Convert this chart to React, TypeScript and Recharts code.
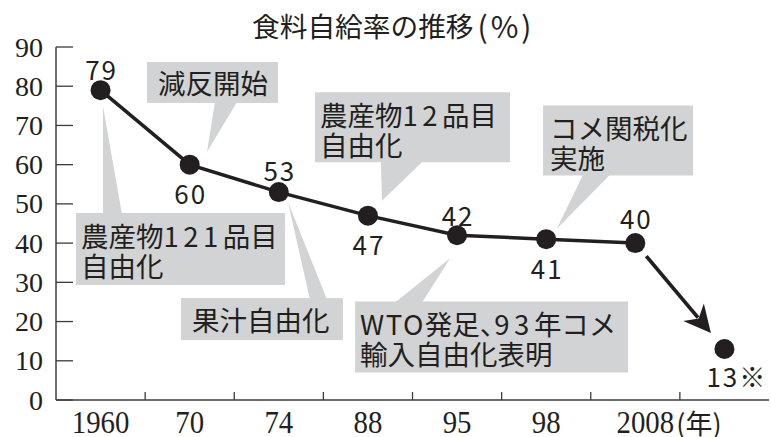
import React from 'react';
import { LineChart, Line, XAxis, YAxis } from 'recharts';

// ---------- data ----------
const TITLE_MAIN = '食料自給率の推移';
const TITLE_UNIT = ['(', '%', ')'];
const categories = ['1960', '70', '74', '88', '95', '98', '2008', ''];
const rates = [79, 60, 53, 47, 42, 41, 40, 13];
const valueLabels = ['79', '60', '53', '47', '42', '41', '40', '13※'];
const yTicks = [0, 10, 20, 30, 40, 50, 60, 70, 80, 90];
const yearSuffix = '(年)';
const plainLineEnd = 6; // last point joined by the plain line; the arrow follows
const eventIndex = [0, 1, 2, 3, 4, 5];
const eventText = [
  ['農産物121品目', '自由化'],
  ['減反開始'],
  ['果汁自由化'],
  ['農産物12品目', '自由化'],
  ['WTO発足、93年コメ', '輸入自由化表明'],
  ['コメ関税化', '実施'],
];

// ---------- layout / style ----------
const W = 771;
const H = 437;
const MARGIN = { top: 47, right: 2, bottom: 0, left: 0 };
const X_AXIS_H = 37;
const Y_AXIS_W = 56;
const INK = '#231f20';
const AXIS = '#3c3c3c';
const BOX = '#d1d3d4';
const CJK = "'Noto Sans CJK JP', 'Noto Sans', sans-serif";
const SERIF = "'Liberation Serif', 'DejaVu Serif', serif";
const labelDy = [-22, 28, -23, 28, -21, 28, -26, 26];
// box: [dx, dy, w, h] relative to the anchor point; base: x range on the box edge; tip: pointer tip
const calloutLayout = [
  { box: [-24.6, 122.8, 209, 72], base: [2.4, 21.4], tip: [2.4, 16], pad: 5 },
  { box: [-42.7, -102.7, 131, 41], base: [25.3, 47.3], tip: [17.3, -12.7], pad: 11 },
  { box: [-97.8, 106, 162, 42], base: [31, 48], tip: [9.2, 10], pad: 11 },
  { box: [-52.9, -123.4, 195, 70], base: [13, 55], tip: [14, -15], pad: 5 },
  { box: [-102, 66.2, 273, 71], base: [-62, -35], tip: [-7, 23], pad: 5 },
  { box: [-3.1, -133.7, 150, 70], base: [37, 64], tip: [10.6, -10.4], pad: 7 },
];

const chartData = categories.map((cat, i) => ({
  cat,
  callout: rates[i],
  main: i <= plainLineEnd ? rates[i] : null,
  arrow: i >= plainLineEnd ? rates[i] : null,
  point: rates[i],
}));

// split text into runs to widen ASCII digits/letters like the newspaper face
function runs(s: string) {
  const out: { t: string; ls: number }[] = [];
  for (const ch of Array.from(s)) {
    let ls = 0;
    if (/[0-9]/.test(ch)) ls = 4.5;
    else if (/[A-Za-z]/.test(ch)) ls = 1.5;
    else if (ch === '、') ls = -13;
    const last = out[out.length - 1];
    if (last && last.ls === ls) last.t += ch;
    else out.push({ t: ch, ls });
  }
  return out;
}

const RichText = ({ x, y, text, size }: any) => (
  <text x={x} y={y} dominantBaseline="central" fontFamily={CJK} fontSize={size} fill={INK}>
    {runs(text).map((r, i) => (
      <tspan key={i} style={{ letterSpacing: `${r.ls}px` }}>
        {r.t}
      </tspan>
    ))}
  </text>
);

const CalloutDot = (p: any) => {
  const { cx, cy, index } = p;
  const k = eventIndex.indexOf(index);
  if (cx == null || cy == null || k < 0) return <g key={`c${index}`} />;
  const lay = calloutLayout[k];
  const lines = eventText[k];
  const [dx, dy, w, h] = lay.box;
  const bx = cx + dx;
  const by = cy + dy;
  const tx = cx + lay.tip[0];
  const ty = cy + lay.tip[1];
  const edgeY = ty < by ? by + 1 : by + h - 1;
  const poly = `${cx + lay.base[0]},${edgeY} ${tx},${ty} ${cx + lay.base[1]},${edgeY}`;
  return (
    <g key={`c${index}`}>
      <polygon points={poly} fill={BOX} />
      <rect x={bx} y={by} width={w} height={h} fill={BOX} />
      {lines.map((ln, j) => (
        <RichText
          key={j}
          x={bx + lay.pad}
          y={lines.length === 1 ? by + h / 2 : by + 22 + 30 * j}
          text={ln}
          size={27.5}
        />
      ))}
    </g>
  );
};

let arrowStart: { x: number; y: number } | null = null;
const ArrowDot = (p: any) => {
  const { cx, cy, index, points } = p;
  if (cx == null || cy == null) return <g key={`a${index}`} />;
  if (index === plainLineEnd) {
    arrowStart = { x: cx, y: cy };
    return <g key={`a${index}`} />;
  }
  const st = (points && points[plainLineEnd]) || arrowStart;
  if (!st) return <g key={`a${index}`} />;
  const ddx = cx - st.x;
  const ddy = cy - st.y;
  const len = Math.hypot(ddx, ddy);
  const ux = ddx / len;
  const uy = ddy / len;
  const px = -uy;
  const py = ux;
  const s0 = 17;
  const tipBack = 21;
  const headLen = 27;
  const headHalf = 13.5;
  const notch = 19;
  const tip = { x: cx - ux * tipBack, y: cy - uy * tipBack };
  const sx = st.x + ux * s0;
  const sy = st.y + uy * s0;
  const ex = tip.x - ux * (notch + 1);
  const ey = tip.y - uy * (notch + 1);
  const b1 = { x: tip.x - ux * headLen + px * headHalf, y: tip.y - uy * headLen + py * headHalf };
  const b2 = { x: tip.x - ux * headLen - px * headHalf, y: tip.y - uy * headLen - py * headHalf };
  const nt = { x: tip.x - ux * notch, y: tip.y - uy * notch };
  return (
    <g key={`a${index}`}>
      <line x1={sx} y1={sy} x2={ex} y2={ey} stroke={INK} strokeWidth={3.8} />
      <polygon points={`${tip.x},${tip.y} ${b1.x},${b1.y} ${nt.x},${nt.y} ${b2.x},${b2.y}`} fill={INK} />
    </g>
  );
};

const PointDot = (p: any) => {
  const { cx, cy, index } = p;
  if (cx == null || cy == null) return <g key={`p${index}`} />;
  const lbl = valueLabels[index];
  const ly = cy + labelDy[index];
  const isLast = index === rates.length - 1;
  return (
    <g key={`p${index}`}>
      <circle cx={cx} cy={cy} r={10} fill={INK} />
      {isLast ? (
        <text x={cx - 18} y={ly} dominantBaseline="central" fontFamily={CJK} fontSize={26} fill={INK}>
          <tspan style={{ letterSpacing: '2px' }}>{lbl.slice(0, 2)}</tspan>
          <tspan>{lbl.slice(2)}</tspan>
        </text>
      ) : (
        <text
          x={cx + 1}
          y={ly}
          textAnchor="middle"
          dominantBaseline="central"
          fontFamily={CJK}
          fontSize={26}
          fill={INK}
          style={{ letterSpacing: '2px' }}
        >
          {lbl}
        </text>
      )}
    </g>
  );
};

const XTick = (p: any) => {
  const { x, y, payload, index } = p;
  const half = payload && payload.offset ? payload.offset : 0;
  const label = payload ? String(payload.value) : '';
  const isYearEnd = index === plainLineEnd;
  return (
    <g>
      {index < categories.length - 1 && (
        <line x1={x + half} x2={x + half} y1={y} y2={y - 8} stroke={AXIS} strokeWidth={1.3} />
      )}
      {label !== '' && (
        <text
          transform={`translate(${x + (isYearEnd ? 10 : 0)} ${y + 22}) scale(0.9 1)`}
          textAnchor="middle"
          dominantBaseline="central"
          fontFamily={SERIF}
          fontSize={32}
          fill={INK}
        >
          {label}
        </text>
      )}
      {isYearEnd && (
        <text x={x + 41} y={y + 22} dominantBaseline="central" fontFamily={CJK} fontSize={27} fill={INK}>
          {yearSuffix}
        </text>
      )}
    </g>
  );
};

const YTick = (p: any) => {
  const { x, y, payload } = p;
  return (
    <g>
      <line x1={x} x2={x + 17} y1={y} y2={y} stroke={AXIS} strokeWidth={1.3} />
      <text
        x={x - 13}
        y={y}
        textAnchor="end"
        dominantBaseline="central"
        fontFamily={SERIF}
        fontSize={28}
        fill={INK}
      >
        {payload.value}
      </text>
    </g>
  );
};

export default function App() {
  return (
    <div style={{ position: 'absolute', left: 0, top: 0, width: W, height: H, background: '#fff' }}>
      <LineChart width={W} height={H} data={chartData} margin={MARGIN}>
        <XAxis
          dataKey="cat"
          scale="band"
          interval={0}
          height={X_AXIS_H}
          tickSize={0}
          tickMargin={0}
          tickLine={false}
          tick={<XTick />}
          axisLine={{ stroke: AXIS, strokeWidth: 1.5 }}
        />
        <XAxis
          xAxisId="top"
          dataKey="cat"
          scale="band"
          orientation="top"
          height={0}
          tick={false}
          tickLine={false}
          axisLine={{ stroke: AXIS, strokeWidth: 1.5 }}
        />
        <YAxis
          type="number"
          domain={[0, 90]}
          ticks={yTicks}
          interval={0}
          width={Y_AXIS_W}
          tickSize={0}
          tickMargin={0}
          tickLine={false}
          tick={<YTick />}
          axisLine={{ stroke: AXIS, strokeWidth: 1.5 }}
        />
        <YAxis
          yAxisId="right"
          orientation="right"
          type="number"
          domain={[0, 90]}
          width={0}
          tick={false}
          tickLine={false}
          axisLine={{ stroke: AXIS, strokeWidth: 1.5 }}
        />
        <Line dataKey="callout" stroke="none" dot={CalloutDot} activeDot={false} isAnimationActive={false} />
        <Line
          dataKey="main"
          stroke={INK}
          strokeWidth={3.5}
          dot={false}
          activeDot={false}
          isAnimationActive={false}
        />
        <Line dataKey="arrow" stroke="none" dot={ArrowDot} activeDot={false} isAnimationActive={false} />
        <Line dataKey="point" stroke="none" dot={PointDot} activeDot={false} isAnimationActive={false} />
      </LineChart>
      <svg width={W} height={47} style={{ position: 'absolute', left: 0, top: 0 }}>
        <text x={252} y={24.5} dominantBaseline="central" fontFamily={CJK} fontSize={27.7} fill={INK}>
          {TITLE_MAIN}
          <tspan dx={4} fontSize={30}>{TITLE_UNIT[0]}</tspan>
          <tspan dx={3} fontSize={30}>{TITLE_UNIT[1]}</tspan>
          <tspan dx={3} fontSize={30}>{TITLE_UNIT[2]}</tspan>
        </text>
      </svg>
    </div>
  );
}
